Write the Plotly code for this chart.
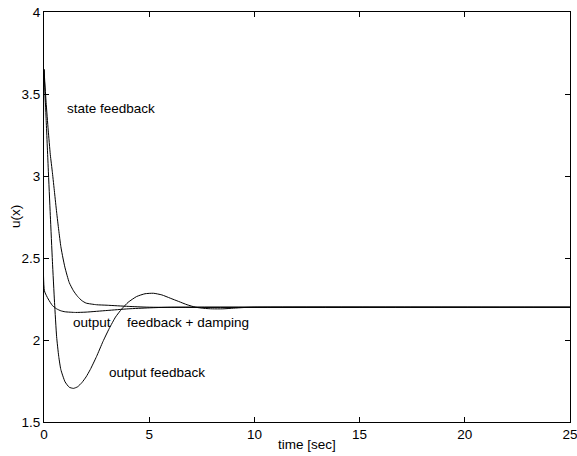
import plotly.graph_objects as go

# output feedback
t_out = [0, 0.1, 0.2, 0.3, 0.4, 0.5, 0.6, 0.7, 0.8, 1.0, 1.2, 1.4, 1.6, 1.8, 2.0, 2.2, 2.5, 2.8,
         3.1, 3.4, 3.7, 4.0, 4.4, 4.8, 5.2, 5.6, 6.0, 6.4, 6.8, 7.2, 7.6, 8.0, 8.5, 9.0, 9.5, 10, 25]
u_out = [3.65, 3.35, 3.05, 2.76, 2.48, 2.23, 2.02, 1.90, 1.82, 1.745, 1.712, 1.705, 1.715, 1.74,
         1.775, 1.82, 1.90, 1.99, 2.07, 2.14, 2.19, 2.23, 2.265, 2.282, 2.285, 2.275, 2.255, 2.235,
         2.215, 2.20, 2.193, 2.19, 2.19, 2.194, 2.198, 2.2, 2.2]

# state feedback
t_state = [0, 0.1, 0.2, 0.3, 0.4, 0.5, 0.6, 0.7, 0.8, 0.9, 1.0, 1.2, 1.4, 1.6, 1.8, 2.0, 2.5,
           3.0, 4.0, 5.0, 25]
u_state = [3.65, 3.45, 3.28, 3.13, 3.02, 2.90, 2.78, 2.67, 2.57, 2.50, 2.44, 2.35, 2.30, 2.265,
           2.24, 2.225, 2.215, 2.212, 2.205, 2.2, 2.2]

# output feedback + damping
t_damp = [0, 0.02, 0.2, 0.4, 0.6, 0.8, 1.0, 1.5, 2.0, 3.0, 4.0, 5.0, 6.0, 25]
u_damp = [3.65, 2.30, 2.25, 2.21, 2.19, 2.178, 2.172, 2.168, 2.17, 2.18, 2.19, 2.196, 2.2, 2.2]

x_ticks = [0, 5, 10, 15, 20, 25]
y_ticks = [1.5, 2, 2.5, 3, 3.5, 4]
y_tick_text = ["1.5", "2", "2.5", "3", "3.5", "4"]

labels = ["state feedback", "output", "feedback + damping", "output feedback"]
label_x = [1.0, 1.3, 3.86, 3.0]
label_y = [3.41, 2.105, 2.105, 1.80]

fig = go.Figure()
for t, u in [(t_out, u_out), (t_state, u_state), (t_damp, u_damp)]:
    fig.add_trace(go.Scatter(x=t, y=u, mode="lines",
                             line=dict(color="black", width=1, shape="spline", smoothing=0.5),
                             showlegend=False, hoverinfo="skip"))

font = dict(family="Liberation Sans, Arial, sans-serif", size=13.5, color="black")

for txt, lx, ly in zip(labels, label_x, label_y):
    fig.add_annotation(x=lx, y=ly, text=txt, showarrow=False, xanchor="left", yanchor="middle",
                       font=font)

axis_common = dict(showline=True, linecolor="black", linewidth=1, mirror="ticks", ticks="inside",
                   ticklen=5, tickcolor="black", showgrid=False, zeroline=False, tickfont=font,
                   automargin=False, ticklabeloverflow="allow")

fig.update_xaxes(range=[0, 25], tickvals=x_ticks, ticktext=[str(v) for v in x_ticks], **axis_common)
fig.update_yaxes(range=[1.5, 4], tickvals=y_ticks, ticktext=y_tick_text, ticklabelstandoff=0,
                 **axis_common)

fig.add_annotation(xref="paper", yref="paper", x=0.5, y=0, yshift=-13, text="time [sec]",
                   showarrow=False, xanchor="center", yanchor="top", font=font)
fig.add_annotation(xref="paper", yref="paper", x=0, y=0.5, xshift=-29, text="u(x)", textangle=-90,
                   showarrow=False, xanchor="center", yanchor="middle", font=font)

fig.update_layout(width=577, height=456, margin=dict(l=44, r=7, t=12, b=34, autoexpand=False),
                  plot_bgcolor="white", paper_bgcolor="white", font=font)

fig.write_html("out.html", config={"displayModeBar": False, "staticPlot": True},
               post_script="document.body.style.margin='0px';document.body.style.overflow='hidden';")
